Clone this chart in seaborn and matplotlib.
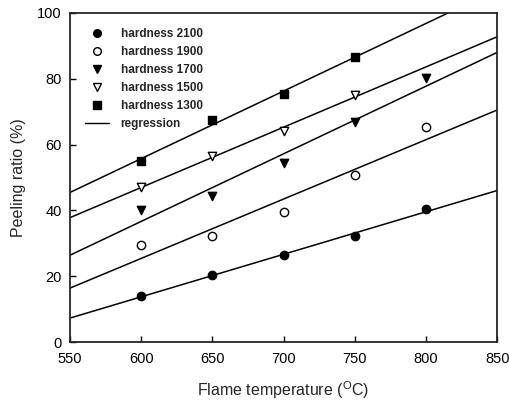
import matplotlib
matplotlib.use("Agg")
import matplotlib.pyplot as plt
from matplotlib.lines import Line2D
import seaborn as sns
import pandas as pd

sns.set_style("ticks")
plt.rcParams['font.family'] = ['Liberation Sans', 'DejaVu Sans']
plt.rcParams['mathtext.fontset'] = 'custom'
plt.rcParams['mathtext.rm'] = 'Liberation Sans'

temps = [600, 650, 700, 750, 800]
h2100 = [14.0, 20.4, 26.4, 32.2, 40.4]
h1900 = [29.5, 32.2, 39.5, 50.8, 65.3]
h1700 = [40.1, 44.4, 54.4, 66.9, 80.2]
h1500 = [47.1, 56.5, 64.1, 75.1]
h1300 = [55.0, 67.5, 75.4, 86.6]

series = [
    ("hardness 2100", h2100, "o", "black"),
    ("hardness 1900", h1900, "o", "white"),
    ("hardness 1700", h1700, "v", "black"),
    ("hardness 1500", h1500, "v", "white"),
    ("hardness 1300", h1300, "s", "black"),
]

fig = plt.figure(figsize=(5.10, 4.03), dpi=100)
ax = fig.add_axes([0.137, 0.151, 0.838, 0.817])
ax.set_xlim(550, 850)
ax.set_ylim(0, 100)

handles = []
for name, vals, mk, fc in series:
    df = pd.DataFrame({"T": temps[:len(vals)], "P": vals})
    sns.regplot(data=df, x="T", y="P", ax=ax, scatter=False, ci=None,
                truncate=False, color="black", line_kws=dict(lw=1.1))
    sns.scatterplot(data=df, x="T", y="P", ax=ax, marker=mk, s=36,
                    color=fc, edgecolor="black", linewidth=1.0, zorder=3)
    handles.append(Line2D([], [], ls="none", marker=mk, markersize=5.5,
                          markerfacecolor=fc, markeredgecolor="black",
                          markeredgewidth=1.0, label=name))
handles.append(Line2D([], [], color="black", lw=1.0, label="regression"))

ax.set_xlim(550, 850)
ax.set_ylim(0, 100)
ax.set_xticks([550, 600, 650, 700, 750, 800, 850])
ax.set_yticks([0, 20, 40, 60, 80, 100])
ax.tick_params(direction="in", length=4, width=1, labelsize=10.5, colors="black")
ax.tick_params(axis="x", pad=7)
ax.tick_params(axis="y", pad=6)
for sp in ax.spines.values():
    sp.set_linewidth(1.3)
    sp.set_visible(True)
ax.set_xlabel(r"Flame temperature ($^{\mathregular{O}}$C)", fontsize=11.5, labelpad=10)
ax.set_ylabel("Peeling ratio (%)", fontsize=11.5, labelpad=8)

ax.legend(handles=handles, loc="upper left", frameon=False,
          handlelength=2.0, handletextpad=1.0, labelspacing=0.5,
          borderaxespad=0.9, prop={"weight": "bold", "size": 8.5})

fig.savefig("out.png", dpi=100)
